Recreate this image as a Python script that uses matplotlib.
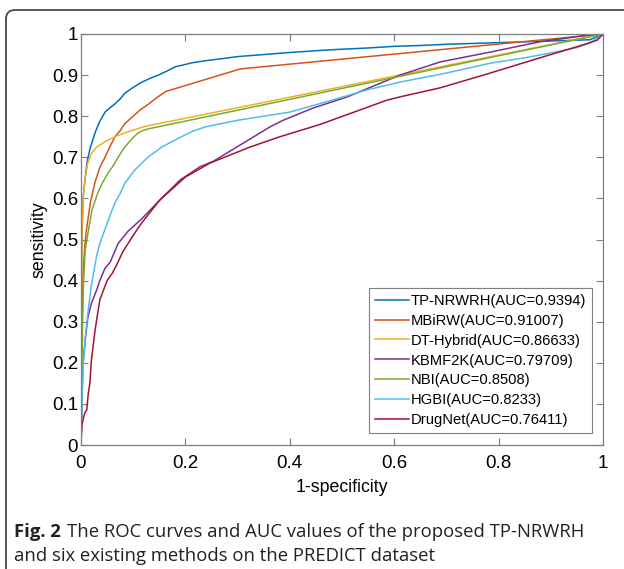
import matplotlib
matplotlib.use("Agg")
import matplotlib.pyplot as plt
from matplotlib.patches import FancyBboxPatch
from matplotlib.transforms import IdentityTransform

# ROC curves
methods = ["TP-NRWRH", "MBiRW", "DT-Hybrid", "KBMF2K", "NBI", "HGBI", "DrugNet"]
auc_labels = ["0.9394", "0.91007", "0.86633", "0.79709", "0.8508", "0.8233", "0.76411"]
colors = ["#0072BD", "#D95319", "#EDB120", "#7E2F8E", "#77AC30", "#4DBEEE", "#A2142F"]

tp_x = [0, 0.0005, 0.001, 0.002, 0.004, 0.008, 0.012, 0.017, 0.022, 0.027, 0.035, 0.046,
        0.055, 0.065, 0.075, 0.084, 0.1, 0.117, 0.132, 0.148, 0.165, 0.18, 0.2, 0.213,
        0.238, 0.27, 0.3, 0.35, 0.4, 0.458, 0.5, 0.55, 0.6, 0.65, 0.7, 0.75, 0.8, 0.85,
        0.9, 0.95, 0.975, 1.0]
tp_y = [0, 0.3, 0.45, 0.52, 0.6, 0.65, 0.69, 0.72, 0.74, 0.76, 0.785, 0.81,
        0.82, 0.83, 0.842, 0.856, 0.87, 0.883, 0.892, 0.9, 0.91, 0.92, 0.926, 0.93,
        0.935, 0.94, 0.945, 0.95, 0.955, 0.96, 0.963, 0.966, 0.97, 0.972, 0.975, 0.977,
        0.979, 0.981, 0.983, 0.985, 0.986, 1.0]

mb_x = [0, 0.001, 0.002, 0.004, 0.007, 0.01, 0.018, 0.027, 0.036, 0.046, 0.055, 0.065,
        0.075, 0.084, 0.1, 0.113, 0.13, 0.145, 0.162, 0.305, 1.0]
mb_y = [0, 0.2, 0.32, 0.42, 0.48, 0.52, 0.59, 0.64, 0.675, 0.70, 0.725, 0.75,
        0.765, 0.782, 0.80, 0.815, 0.83, 0.845, 0.86, 0.915, 1.0]

dt_x = [0, 0.0005, 0.001, 0.002, 0.004, 0.008, 0.013, 0.02, 0.03, 0.046, 0.068, 0.085,
        0.1, 0.122, 1.0]
dt_y = [0, 0.2, 0.4, 0.53, 0.6, 0.65, 0.686, 0.71, 0.725, 0.738, 0.752, 0.76,
        0.766, 0.775, 1.0]

kb_x = [0, 0.001, 0.002, 0.004, 0.008, 0.013, 0.02, 0.03, 0.036, 0.046, 0.056, 0.071,
        0.09, 0.116, 0.151, 0.19, 0.228, 0.253, 0.305, 0.362, 0.387, 0.445, 0.51, 0.573,
        0.611, 0.688, 0.784, 0.879, 0.975, 1.0]
kb_y = [0, 0.05, 0.12, 0.2, 0.255, 0.31, 0.345, 0.377, 0.4, 0.43, 0.445, 0.49,
        0.52, 0.55, 0.596, 0.645, 0.677, 0.69, 0.73, 0.774, 0.79, 0.82, 0.847, 0.88,
        0.9, 0.932, 0.956, 0.981, 0.998, 1.0]

nbi_x = [0, 0.001, 0.002, 0.003, 0.005, 0.008, 0.014, 0.021, 0.032, 0.042, 0.052, 0.062,
         0.071, 0.08, 0.09, 0.1, 0.109, 0.118, 0.128, 1.0]
nbi_y = [0, 0.05, 0.15, 0.3, 0.4, 0.474, 0.52, 0.572, 0.613, 0.64, 0.662, 0.68,
         0.7, 0.718, 0.734, 0.748, 0.759, 0.765, 0.769, 1.0]

hg_x = [0, 0.001, 0.002, 0.004, 0.008, 0.013, 0.02, 0.03, 0.036, 0.046, 0.056, 0.065,
        0.075, 0.084, 0.103, 0.128, 0.155, 0.186, 0.213, 0.238, 0.3, 0.4, 0.47, 0.548,
        0.611, 0.7, 0.784, 0.85, 0.912, 0.95, 0.975, 1.0]
hg_y = [0, 0.05, 0.1, 0.19, 0.26, 0.32, 0.39, 0.46, 0.49, 0.525, 0.56, 0.589,
        0.612, 0.637, 0.669, 0.7, 0.725, 0.746, 0.763, 0.774, 0.79, 0.81, 0.835, 0.864,
        0.883, 0.905, 0.929, 0.942, 0.957, 0.967, 0.978, 1.0]

dn_x = [0, 0.001, 0.002, 0.005, 0.008, 0.011, 0.014, 0.017, 0.02, 0.027, 0.036, 0.05,
        0.06, 0.069, 0.08, 0.1, 0.116, 0.151, 0.2, 0.247, 0.324, 0.381, 0.458, 0.534,
        0.586, 0.611, 0.688, 0.784, 0.879, 0.95, 0.989, 1.0]
dn_y = [0, 0.03, 0.05, 0.068, 0.08, 0.085, 0.126, 0.15, 0.207, 0.28, 0.353, 0.4,
        0.418, 0.44, 0.47, 0.51, 0.54, 0.596, 0.652, 0.686, 0.725, 0.75, 0.78, 0.815,
        0.839, 0.847, 0.869, 0.905, 0.942, 0.969, 0.985, 1.0]

curves = [(tp_x, tp_y), (mb_x, mb_y), (dt_x, dt_y), (kb_x, kb_y),
          (nbi_x, nbi_y), (hg_x, hg_y), (dn_x, dn_y)]
xticks = [0, 0.2, 0.4, 0.6, 0.8, 1]
xticklabels = ["0", "0.2", "0.4", "0.6", "0.8", "1"]
yticks = [0, 0.1, 0.2, 0.3, 0.4, 0.5, 0.6, 0.7, 0.8, 0.9, 1]
yticklabels = ["0", "0.1", "0.2", "0.3", "0.4", "0.5", "0.6", "0.7", "0.8", "0.9", "1"]

plt.rcParams["font.family"] = ["Liberation Sans", "DejaVu Sans"]
W, H = 624, 569
fig = plt.figure(figsize=(W / 100, H / 100), dpi=100)

# outer frame, open to the right and bottom like the cropped reference
frame = FancyBboxPatch((6, -60), 700, H - 10 + 60,
                       boxstyle="round,pad=0,rounding_size=9",
                       transform=IdentityTransform(), fill=False,
                       edgecolor="#4a4a4a", lw=1.3)
fig.patches.append(frame)

ax = fig.add_axes([81 / W, 1 - 445 / H, (603 - 81) / W, (445 - 34) / H])
for (x, y), name, auc, c in zip(curves, methods, auc_labels, colors):
    ax.plot(x, y, color=c, lw=1.1, label=f"{name}(AUC={auc})")

ax.set_xlim(0, 1)
ax.set_ylim(0, 1)
ax.set_xticks(xticks)
ax.set_xticklabels(xticklabels)
ax.set_yticks(yticks)
ax.set_yticklabels(yticklabels)
ax.tick_params(direction="in", length=5, width=0.8, color="#7f7f7f",
               labelsize=13.5, top=True, right=True)
ax.tick_params(axis="x", pad=7.5)
ax.tick_params(axis="y", pad=2)
for s in ax.spines.values():
    s.set_color("#7f7f7f")
    s.set_linewidth(0.9)
ax.set_xlabel("1-specificity", fontsize=12.8, labelpad=5)
ax.set_ylabel("sensitivity", fontsize=12.8, labelpad=3)

leg = ax.legend(loc="lower right", bbox_to_anchor=(0.979, 0.029), fontsize=10.6,
                frameon=True, fancybox=False, framealpha=1, edgecolor="#7f7f7f",
                handlelength=2.3, handletextpad=0.15, labelspacing=0.4,
                borderpad=0.4, borderaxespad=0)
leg.get_frame().set_linewidth(0.8)

# caption
cap_font = ["Open Sans", "DejaVu Sans"]
cap_size = 13.3
fig.text(14 / W, 1 - 537 / H, "Fig. 2", fontsize=cap_size, fontweight="bold",
         family=cap_font, va="baseline", color="#222222")
fig.text(67 / W, 1 - 537 / H,
         "The ROC curves and AUC values of the proposed TP-NRWRH",
         fontsize=cap_size, family=cap_font, va="baseline", color="#222222")
fig.text(14 / W, 1 - 561 / H, "and six existing methods on the PREDICT dataset",
         fontsize=cap_size, family=cap_font, va="baseline", color="#222222")

fig.savefig("out.png", dpi=100)
